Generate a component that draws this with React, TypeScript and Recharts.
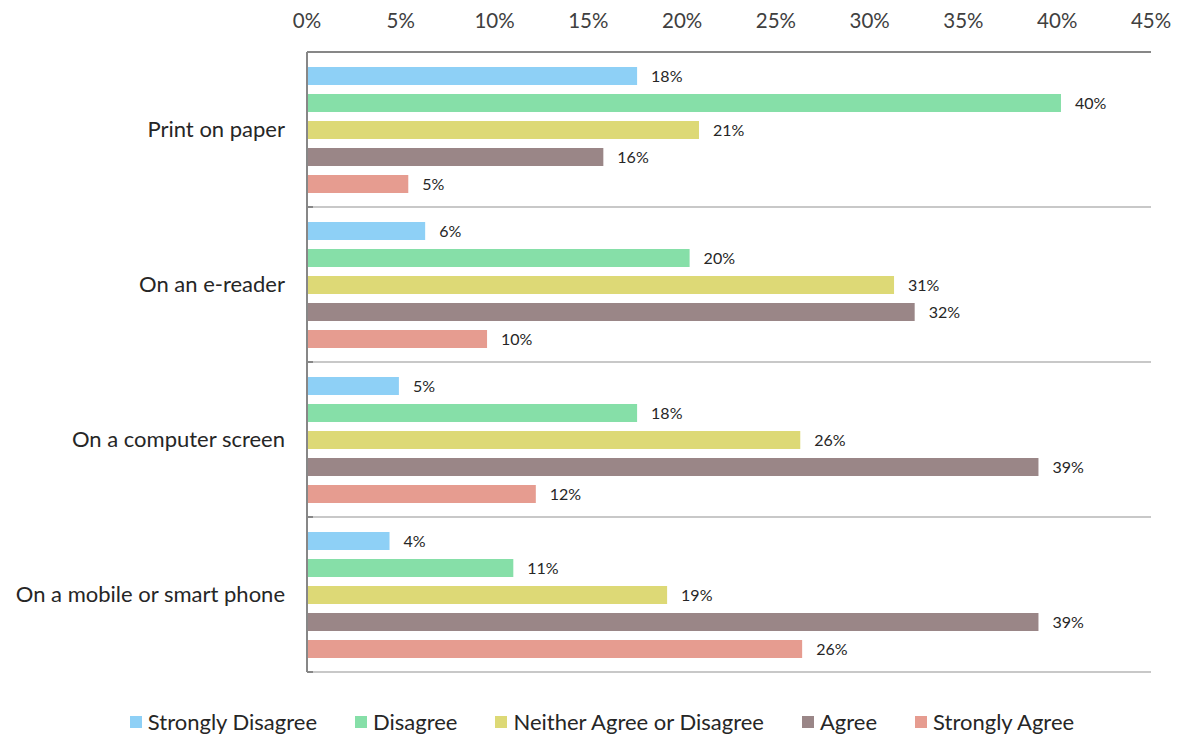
import { BarChart, Bar, XAxis, YAxis, CartesianGrid, Legend, LabelList } from 'recharts';

const categories = ['Print on paper', 'On an e-reader', 'On a computer screen', 'On a mobile or smart phone'];
const stronglyDisagree = [17.6, 6.3, 4.9, 4.4];
const disagree = [40.2, 20.4, 17.6, 11.0];
const neither = [20.9, 31.3, 26.3, 19.2];
const agree = [15.8, 32.4, 39.0, 39.0];
const stronglyAgree = [5.4, 9.6, 12.2, 26.4];
const xTicks = [0, 5, 10, 15, 20, 25, 30, 35, 40, 45];

const series = [
  { key: 'sd', name: 'Strongly Disagree', color: '#8ED0F6', values: stronglyDisagree },
  { key: 'd', name: 'Disagree', color: '#86DFA8', values: disagree },
  { key: 'n', name: 'Neither Agree or Disagree', color: '#DDD976', values: neither },
  { key: 'a', name: 'Agree', color: '#9A8687', values: agree },
  { key: 'sa', name: 'Strongly Agree', color: '#E69C90', values: stronglyAgree },
];

const chartData = categories.map((name, i) => {
  const row: Record<string, string | number> = { name };
  series.forEach(s => { row[s.key] = s.values[i]; });
  return row;
});

const FONT = 'Lato, "Open Sans", sans-serif';
const AXIS = '#878787';
const LABEL_GAP = 22;

// category label + small inward tick marks at the band edges (Excel style)
function CategoryTick(props: any) {
  const { x, y, payload, index } = props;
  const half = payload.offset ?? 0;
  const ax = x + LABEL_GAP;
  return (
    <g>
      <text x={x} y={y} dy="0.355em" textAnchor="end" fontSize={22} fill="#262626" fontFamily={FONT}>
        {payload.value}
      </text>
      <line x1={ax} x2={ax + 6} y1={y - half} y2={y - half} stroke={AXIS} strokeWidth={2} />
      {index === categories.length - 1 && (
        <line x1={ax} x2={ax + 6} y1={y + half} y2={y + half} stroke={AXIS} strokeWidth={2} />
      )}
    </g>
  );
}

// grid lines on the edges between category bands
function bandEdges({ yAxis, offset }: any) {
  try {
    const s = yAxis?.scale;
    const fn = typeof s === 'function' ? s : typeof s?.map === 'function' ? (v: string) => s.map(v) : null;
    if (fn && typeof s.bandwidth === 'function') {
      const starts = categories.map(c => fn(c));
      if (starts.every(v => typeof v === 'number' && !isNaN(v))) {
        return [...starts, starts[starts.length - 1] + s.bandwidth()];
      }
    }
  } catch (e) {
    // fall through
  }
  const step = offset.height / categories.length;
  return [0, ...categories.map((_, i) => i + 1)].map(i => offset.top + i * step);
}

function LegendContent() {
  return (
    <div style={{ height: 66, paddingTop: 36, boxSizing: 'border-box', display: 'flex', justifyContent: 'center', alignItems: 'flex-start', paddingLeft: 26, fontFamily: FONT, fontSize: 22, color: '#262626' }}>
      {series.map(s => (
        <div key={s.key} style={{ display: 'flex', alignItems: 'center', margin: '0 19px' }}>
          <span style={{ width: 12, height: 12, background: s.color, display: 'inline-block', marginRight: 6 }} />
          <span>{s.name}</span>
        </div>
      ))}
    </div>
  );
}

export default function App() {
  return (
    <div style={{ width: 1178, height: 738, background: '#fff' }}>
      <style>{'body{margin:0}'}</style>
      <BarChart
        width={1178}
        height={738}
        data={chartData}
        layout="vertical"
        margin={{ top: 10, right: 27, bottom: 0, left: 0 }}
        barSize={18}
        barGap={9}
      >
        <CartesianGrid vertical={false} horizontalCoordinatesGenerator={bandEdges} stroke="#C8C8C8" strokeWidth={2} />
        <XAxis
          type="number"
          orientation="top"
          domain={[0, 45]}
          ticks={xTicks}
          tickFormatter={(v: number) => `${v}%`}
          axisLine={false}
          tickLine={false}
          tickSize={0}
          tickMargin={24}
          height={42}
          interval={0}
          tick={{ fontSize: 20.5, fill: '#404040', fontFamily: FONT }}
        />
        <XAxis
          xAxisId="line"
          type="number"
          orientation="top"
          domain={[0, 45]}
          ticks={xTicks}
          mirror
          tick={false}
          tickSize={6}
          height={1}
          axisLine={{ stroke: AXIS, strokeWidth: 2 }}
          tickLine={{ stroke: AXIS, strokeWidth: 2 }}
        />
        <YAxis
          type="category"
          dataKey="name"
          width={307}
          axisLine={{ stroke: AXIS, strokeWidth: 2 }}
          tickLine={false}
          tickSize={0}
          tickMargin={LABEL_GAP}
          interval={0}
          tick={<CategoryTick />}
        />
        <Legend verticalAlign="bottom" content={<LegendContent />} wrapperStyle={{ left: 0, width: 1178 }} />
        {series.map(s => (
          <Bar key={s.key} dataKey={s.key} name={s.name} fill={s.color} isAnimationActive={false}>
            <LabelList
              dataKey={s.key}
              position="right"
              offset={14}
              formatter={(v: number) => `${Math.round(v)}%`}
              style={{ fontSize: 16, fill: '#262626', fontFamily: FONT }}
            />
          </Bar>
        ))}
      </BarChart>
    </div>
  );
}
